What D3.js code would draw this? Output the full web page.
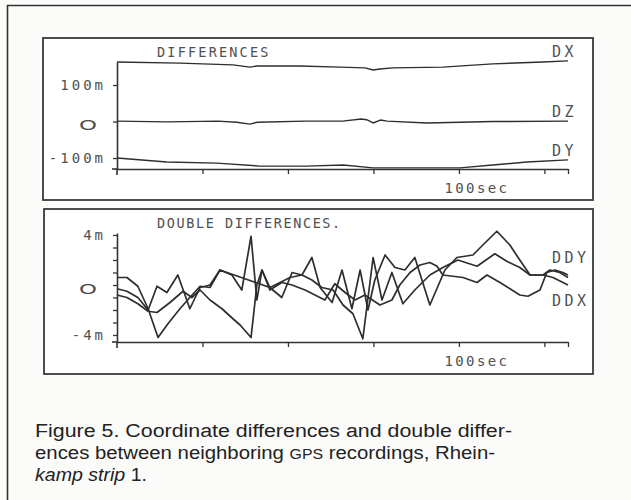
<!DOCTYPE html>
<html>
<head>
<meta charset="utf-8">
<script src="https://cdnjs.cloudflare.com/ajax/libs/d3/7.8.5/d3.min.js"></script>
<style>
body{margin:0;background:#fbfbf9;}
svg{display:block;}
.plot{font-family:"DejaVu Sans Mono",monospace;fill:#505050;}
</style>
</head>
<body>
<svg id="chart"></svg>
<script>
// time in sec, values in m
var tMax = 131.9;

// top panel: coordinate differences
var dxData = [[0,163],[18.4,160],[33.9,155],[38.9,149],[40.9,152],[53.5,152],[65.2,149],[72.5,147],[74.9,141],[76.9,144],[80.7,147],[95.3,149],[109.9,158],[124.6,163],[131.9,166]];
var dzData = [[0,1],[14.6,-1],[29.5,1],[35,-2],[38.9,-7],[41,-2],[55,1],[66,1],[71.4,7],[73,5],[74.9,-4],[77,4],[79,1],[90.6,-4],[110,0],[131.9,1]];
var dyData = [[0,-100],[14.6,-111],[29.2,-114],[41.8,-122],[55.3,-122],[66.1,-119],[74.9,-127],[85.7,-127],[100.3,-127],[109.9,-119],[119.9,-111],[131.9,-105]];

// bottom panel: double differences
var ddA = [[0,0.6],[2.9,0.6],[6.1,-0.1],[9.1,-1.9],[12.0,-4.2],[14.9,-3.1],[18.4,-1.9],[21.3,-1.0],[24.3,-0.1],[27.2,-0.2],[30.1,1.2],[33.6,0.8],[36.5,-0.4],[39.2,3.9],[40.9,-1.2],[42.4,1.2],[44.7,-0.2],[47.7,0.2],[50.6,0.6],[54.1,0.8],[57.0,0.4],[59.9,-0.2],[63.2,-0.4],[66.1,-1.6],[69.0,-2.3],[71.9,-4.3],[74.9,2.2],[77.5,-1.2],[80.4,1.0],[83.6,-1.5],[87.1,-0.4],[91.5,0.8],[95.3,1.4],[99.7,2.0],[105.3,1.5],[110.5,2.5],[114.0,1.9],[117.8,1.4],[120.8,0.8],[124.6,0.8],[127.5,0.6],[131.9,0.0]];
var ddB = [[0,-0.3],[2.9,-0.5],[6.1,-1.0],[9.1,-2.0],[11.7,-0.1],[14.6,-0.6],[17.8,0.8],[21.3,-1.9],[24.3,-0.2],[27.2,0],[30.1,1.2],[37.4,0.5],[44.7,-0.2],[48.2,-1.0],[51.2,1.0],[54.1,0.8],[57.0,2.2],[59.4,-0.2],[62.9,-1.4],[65.8,1.2],[68.7,-1.9],[71.1,1.2],[73.4,-2.0],[75.4,0.4],[78.4,2.4],[81.3,1.4],[84.2,1.2],[87.1,2.2],[91.5,-1.6],[95.9,1.2],[99.4,2.2],[104.1,2.4],[107.0,3.2],[111.1,4.3],[114.9,3.2],[117.3,2.2],[120.8,0.8],[124.6,0.8],[126.6,1.2],[129.5,1.0],[131.9,0.6]];
var ddC = [[0,-0.8],[2.9,-1.0],[6.1,-1.5],[9.1,-2.1],[11.7,-2.2],[15.5,-1.4],[19.3,-0.5],[21.9,-1.0],[24.3,-0.4],[27.2,-1.2],[30.7,-1.9],[33.9,-2.7],[36.0,-3.2],[39.2,-4.2],[40.9,0],[42.4,1.2],[44.7,-0.4],[48.2,0.2],[51.2,0],[55.0,-0.4],[57.9,-0.8],[60.8,-1.2],[63.7,0.1],[66.7,-0.6],[69.6,-1.2],[72.5,-0.8],[76.9,-1.6],[80.4,-1.2],[82.7,0],[85.7,1.0],[88.6,1.6],[91.5,1.8],[93.6,1.5],[95.3,0.8],[101.2,0.6],[105.3,0.2],[108.2,0.8],[112.0,0.2],[117.8,-0.8],[120.2,-0.9],[123.7,-0.4],[125.7,1.0],[128.1,1.2],[130.4,1.0],[131.9,0.8]];

var xTicks = [25,50,75,100,125];
var xTickText = "100sec";
var topYTicks = [100,0,-100];
var topYLabels = ["100m","O","-100m"];
var botYTicks = [4,3,2,1,0,-1,-2,-3,-4];
var botYLabelVals = [4,0,-4];
var botYLabels = ["4m","O","-4m"];

var svg = d3.select("#chart").attr("width",631).attr("height",500);

svg.append("rect").attr("width",631).attr("height",500).attr("fill","#fbfbf9");
// outer frame (only left and top edges are visible)
svg.append("path").attr("d","M7.5,500V5.5H631").attr("fill","none").attr("stroke","#333").attr("stroke-width",1.6);

function drawPanel(p){
  svg.append("rect").attr("x",p.box[0]).attr("y",p.box[1]).attr("width",p.box[2]).attr("height",p.box[3])
    .attr("fill","#fff").attr("stroke","#3a3a3a").attr("stroke-width",1.8);

  var x = d3.scaleLinear().domain([0,tMax]).range([117,568]);
  var y = d3.scaleLinear().domain(p.yDomain).range(p.yRange);
  var g = svg.append("g").attr("class","plot");

  // x axis
  var xa = g.append("g").attr("transform","translate(0,"+p.yRange[0]+")")
    .call(d3.axisBottom(x).tickValues(xTicks.concat([tMax])).tickSize(5).tickSizeOuter(0)
      .tickFormat(function(d){ return d === 100 ? xTickText : ""; }));
  // y axis
  var ya = g.append("g").attr("transform","translate(117,0)")
    .call(d3.axisLeft(y).tickValues(p.yTicks).tickSize(4).tickSizeOuter(0).tickFormat(""));
  g.append("line").attr("x1",x(0)).attr("x2",x(0)).attr("y1",p.yRange[0]).attr("y2",p.yRange[0]+6)
    .attr("stroke","#333").attr("stroke-width",1.6);
  g.append("line").attr("x1",x(0)-5).attr("x2",x(0)).attr("y1",p.yRange[0]).attr("y2",p.yRange[0])
    .attr("stroke","#333").attr("stroke-width",1.6);

  [xa,ya].forEach(function(a){
    a.select(".domain").attr("stroke","#333").attr("stroke-width",1.6);
    a.selectAll(".tick line").attr("stroke","#333").attr("stroke-width",1.3);
  });
  xa.selectAll(".tick text").attr("y",24).attr("dy",0).attr("x",-15).attr("text-anchor","start")
    .attr("fill","#505050").style("font-family","DejaVu Sans Mono").style("font-size","14px").style("letter-spacing","2.4px");

  // y labels
  p.yLabelVals.forEach(function(v,i){
    var t = g.append("text").attr("y",y(v)).attr("dy","0.36em").text(p.yLabels[i]);
    if (p.yLabels[i] === "O") {
      t.attr("x",79).attr("dy","0.62em").style("font-family","DejaVu Sans").style("font-size","14px")
        .attr("textLength",18).attr("lengthAdjust","spacingAndGlyphs");
    } else {
      t.attr("x",p.labelRight).attr("text-anchor","end").style("font-size","14px").style("letter-spacing","3px");
    }
  });

  // title
  g.append("text").attr("x",157).attr("y",p.titleY).style("font-size","13.5px")
    .style("letter-spacing",p.titleSpacing).text(p.title);

  var line = d3.line().x(function(d){ return x(d[0]); }).y(function(d){ return y(d[1]); });
  p.series.forEach(function(s){
    g.append("path").datum(s).attr("d",line).attr("fill","none")
      .attr("stroke","#2e2e2e").attr("stroke-width",p.lineW).attr("stroke-linejoin","round");
  });
  p.names.forEach(function(n){
    g.append("text").attr("x",552).attr("y",n[1]).style("font-size","15px").style("letter-spacing","3.5px").text(n[0]);
  });
}

drawPanel({
  box:[43,38,550,162], yDomain:[-130,163], yRange:[169,62],
  yTicks:topYTicks, yLabelVals:topYTicks, yLabels:topYLabels, labelRight:106,
  title:"DIFFERENCES", titleY:57, titleSpacing:"2.2px",
  series:[dxData,dzData,dyData], lineW:1.4,
  names:[["DX",57],["DZ",117],["DY",156]]
});

drawPanel({
  box:[44,209,549,165], yDomain:[-4.56,4.16], yRange:[342,233],
  yTicks:botYTicks, yLabelVals:botYLabelVals, yLabels:botYLabels, labelRight:106,
  title:"DOUBLE DIFFERENCES.", titleY:228, titleSpacing:"1.6px",
  series:[ddA,ddB,ddC], lineW:1.7,
  names:[["DDY",263],["DDX",306]]
});

// caption
var cap = svg.append("g").style("font-family","'Liberation Sans Narrow','Liberation Sans',Arial,sans-serif")
  .style("font-size","18px").attr("fill","#222");
cap.append("text").attr("x",35).attr("y",437).attr("textLength",477).attr("lengthAdjust","spacingAndGlyphs")
  .text("Figure 5. Coordinate differences and double differ-");
var l2 = cap.append("text").attr("x",35).attr("y",459).attr("textLength",460).attr("lengthAdjust","spacingAndGlyphs");
l2.append("tspan").text("ences between neighboring ");
l2.append("tspan").style("font-size","14px").text("GPS");
l2.append("tspan").text(" recordings, Rhein-");
var l3 = cap.append("text").attr("x",35).attr("y",481).attr("textLength",112).attr("lengthAdjust","spacingAndGlyphs");
l3.append("tspan").style("font-style","italic").text("kamp strip");
l3.append("tspan").text(" 1.");
</script>
</body>
</html>
